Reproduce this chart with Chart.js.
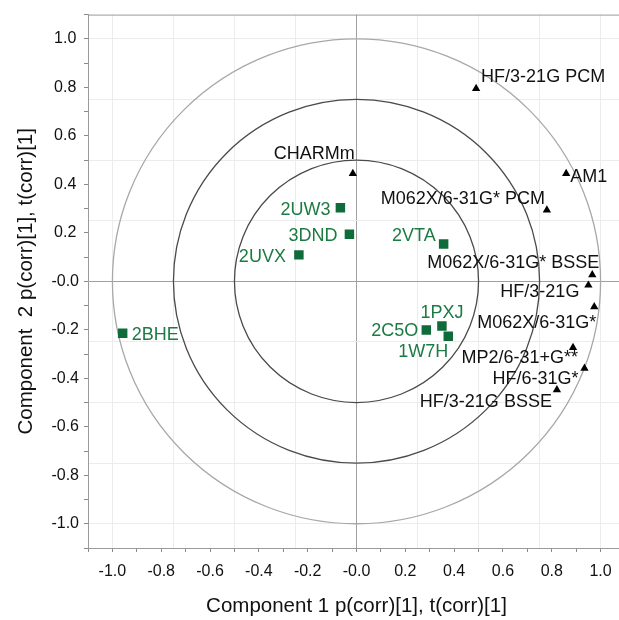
<!DOCTYPE html>
<html>
<head>
<meta charset="utf-8">
<script src="https://cdn.jsdelivr.net/npm/chart.js@4/dist/chart.umd.min.js"></script>
<style>
    html, body { margin: 0; padding: 0; overflow: hidden; background: #fff; }
</style>
</head>
<body>
<canvas id="myChart" width="640" height="620"></canvas>
<script>
// proteins (green squares)
const proteinNames = ['2BHE', '2UVX', '2UW3', '3DND', '2VTA', '1PXJ', '2C5O', '1W7H'];
const proteinX = [-0.958, -0.236, -0.066, -0.029, 0.357, 0.350, 0.286, 0.376];
const proteinY = [-0.214, 0.109, 0.303, 0.194, 0.154, -0.184, -0.201, -0.227];

// methods (black triangles)
const methodNames = ['CHARMm', 'HF/3-21G PCM', 'AM1', 'M062X/6-31G* PCM', 'M062X/6-31G* BSSE',
    'HF/3-21G', 'M062X/6-31G*', 'MP2/6-31+G**', 'HF/6-31G*', 'HF/3-21G BSSE'];
const methodX = [-0.015, 0.490, 0.859, 0.780, 0.966, 0.950, 0.974, 0.887, 0.934, 0.821];
const methodY = [0.444, 0.795, 0.444, 0.294, 0.027, -0.016, -0.105, -0.273, -0.359, -0.448];

// axes
const labelTicks = [-1.0, -0.8, -0.6, -0.4, -0.2, 0, 0.2, 0.4, 0.6, 0.8, 1.0];
const minorTicks = [-1.1, -1.0, -0.9, -0.8, -0.7, -0.6, -0.5, -0.4, -0.3, -0.2, -0.1, 0,
    0.1, 0.2, 0.3, 0.4, 0.5, 0.6, 0.7, 0.8, 0.9, 1.0, 1.1];
const gridTicks = [-1.0, -0.75, -0.5, -0.25, 0, 0.25, 0.5, 0.75, 1.0];
const circleRadii = [0.5, 0.75, 1.0];

// where each label sits relative to its marker
const labelPlacement = {
    '2BHE': { align: 'left', dx: 9, dy: 2 },
    '2UVX': { align: 'right', dx: -13, dy: 2 },
    '2UW3': { align: 'right', dx: -10, dy: 2 },
    '3DND': { align: 'right', dx: -12, dy: 2 },
    '2VTA': { align: 'right', dx: -8, dy: -8 },
    '1PXJ': { align: 'center', dx: 0, dy: -13 },
    '2C5O': { align: 'right', dx: -8, dy: 1 },
    '1W7H': { align: 'right', dx: 0, dy: 16 },
    'CHARMm': { align: 'right', dx: 2, dy: -20 },
    'HF/3-21G PCM': { align: 'left', dx: 5, dy: -12 },
    'AM1': { align: 'left', dx: 4, dy: 3 },
    'M062X/6-31G* PCM': { align: 'right', dx: -2, dy: -11 },
    'M062X/6-31G* BSSE': { align: 'right', dx: 7, dy: -12 },
    'HF/3-21G': { align: 'right', dx: -9, dy: 7 },
    'M062X/6-31G*': { align: 'right', dx: 2, dy: 16 },
    'MP2/6-31+G**': { align: 'right', dx: 5, dy: 11 },
    'HF/6-31G*': { align: 'right', dx: -6, dy: 11 },
    'HF/3-21G BSSE': { align: 'right', dx: -5, dy: 12 }
};

const FONT = '"Liberation Sans", Arial, sans-serif';
const key = v => Math.round(v * 100);
const inList = (list, v) => list.some(t => key(t) === key(v));

function buildAxisTicks(scale) {
    const all = minorTicks.concat(gridTicks.filter(v => !inList(minorTicks, v)));
    all.sort((a, b) => a - b);
    scale.ticks = all.map(v => ({ value: v }));
}

function axis(titleText, titlePadding) {
    return {
        type: 'linear',
        min: -1.1,
        max: 1.1,
        afterBuildTicks: buildAxisTicks,
        grid: {
            color: c => {
                const v = c.tick ? c.tick.value : NaN;
                if (key(v) === 0) return '#a0a0a0';
                return inList(gridTicks, v) ? '#ececec' : 'rgba(0,0,0,0)';
            },
            tickColor: c => (c.tick && inList(minorTicks, c.tick.value)) ? '#8a8a8a' : 'rgba(0,0,0,0)',
            tickLength: 4,
            lineWidth: 1
        },
        border: { color: '#9a9a9a', width: 1 },
        ticks: {
            autoSkip: false,
            maxRotation: 0,
            color: '#111',
            font: { family: FONT, size: 16 },
            callback: v => {
                if (!inList(labelTicks, v)) return '';
                return key(v) === 0 ? '-0.0' : v.toFixed(1);
            }
        },
        title: {
            display: true,
            text: titleText,
            color: '#111',
            font: { family: FONT, size: 20.5 },
            padding: titlePadding
        }
    };
}

const circlesPlugin = {
    id: 'circles',
    beforeDatasetsDraw(chart) {
        const ctx = chart.ctx;
        const xs = chart.scales.x, ys = chart.scales.y;
        const cx = xs.getPixelForValue(0), cy = ys.getPixelForValue(0);
        const area = chart.chartArea;
        ctx.save();
        // top frame line
        ctx.strokeStyle = '#9a9a9a';
        ctx.lineWidth = 1;
        ctx.beginPath();
        ctx.moveTo(area.left, area.top + 0.5);
        ctx.lineTo(area.right, area.top + 0.5);
        ctx.stroke();
        circleRadii.forEach((r, i) => {
            const rx = xs.getPixelForValue(r) - cx;
            const ry = cy - ys.getPixelForValue(r);
            ctx.beginPath();
            ctx.ellipse(cx, cy, rx, ry, 0, 0, Math.PI * 2);
            ctx.strokeStyle = i === circleRadii.length - 1 ? '#a8a8a8' : '#4a4a4a';
            ctx.lineWidth = 1.3;
            ctx.stroke();
        });
        ctx.restore();
    }
};

const pointLabelsPlugin = {
    id: 'pointLabels',
    afterDatasetsDraw(chart) {
        const ctx = chart.ctx;
        ctx.save();
        ctx.font = '18px ' + FONT;
        ctx.textBaseline = 'middle';
        chart.data.datasets.forEach((ds, di) => {
            const meta = chart.getDatasetMeta(di);
            meta.data.forEach((pt, i) => {
                const name = ds.names[i];
                const place = labelPlacement[name];
                ctx.fillStyle = ds.labelColor;
                ctx.textAlign = place.align;
                ctx.fillText(name, pt.x + place.dx, pt.y + place.dy);
            });
        });
        ctx.restore();
    }
};

document.addEventListener('DOMContentLoaded', function () {
    const ctx = document.getElementById('myChart').getContext('2d');

    const xAxis = axis('Component 1 p(corr)[1], t(corr)[1]', { top: 0, bottom: 1 });
    xAxis.ticks.padding = 10;
    xAxis.afterFit = s => { s.height = 72; };

    const yAxis = axis('Component  2 p(corr)[1], t(corr)[1]', { top: 14.5, bottom: 0 });
    yAxis.ticks.padding = 5;
    yAxis.ticks.crossAlign = 'center';
    yAxis.afterFit = s => { s.width = 88; };

    new Chart(ctx, {
        type: 'scatter',
        data: {
            datasets: [
                {
                    label: 'Proteins',
                    names: proteinNames,
                    labelColor: '#1c7b43',
                    data: proteinX.map((x, i) => ({ x: x, y: proteinY[i] })),
                    pointStyle: 'rect',
                    pointRadius: 6.7,
                    backgroundColor: '#0f6b3a',
                    borderColor: '#0f6b3a',
                    borderWidth: 0
                },
                {
                    label: 'Methods',
                    names: methodNames,
                    labelColor: '#111',
                    data: methodX.map((x, i) => ({ x: x, y: methodY[i] })),
                    pointStyle: 'triangle',
                    pointRadius: 4.8,
                    backgroundColor: '#000',
                    borderColor: '#000',
                    borderWidth: 0
                }
            ]
        },
        options: {
            responsive: false,
            animation: false,
            layout: { padding: { top: 13, right: 15, bottom: 0, left: 0 } },
            plugins: {
                legend: { display: false },
                tooltip: { enabled: false }
            },
            scales: {
                x: xAxis,
                y: yAxis
            }
        },
        plugins: [circlesPlugin, pointLabelsPlugin]
    });
});
</script>
</body>
</html>
